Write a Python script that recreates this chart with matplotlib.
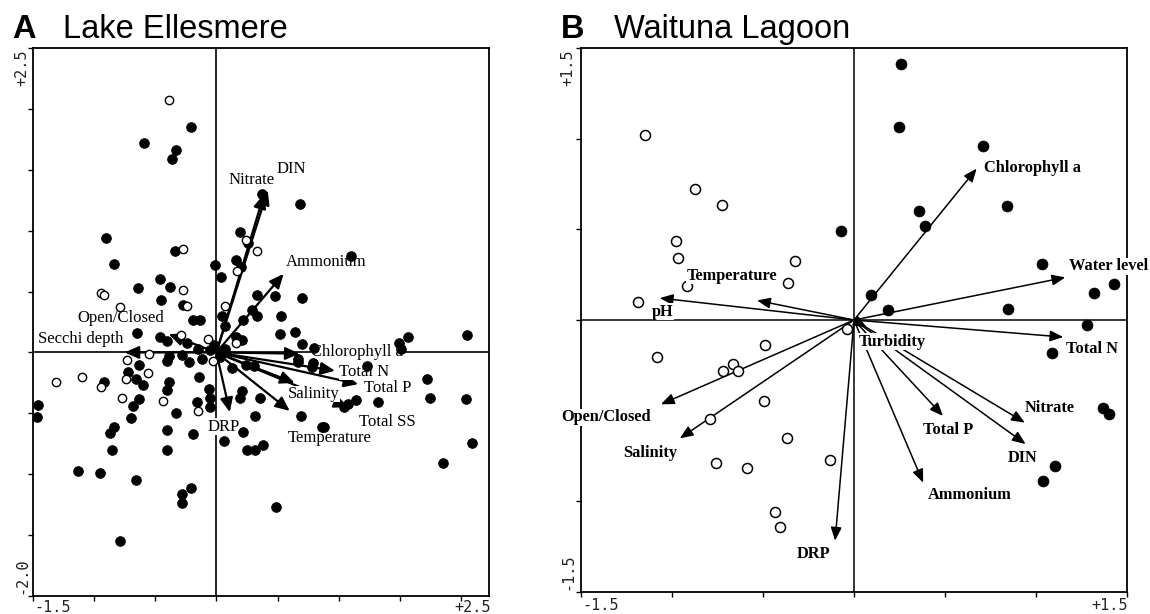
import matplotlib
matplotlib.use("Agg")
import matplotlib.pyplot as plt

# ---------------- Panel A : Lake Ellesmere ----------------
A_filled_x = [-0.21,-0.59,-0.33,-0.36,0.37,0.68,-0.90,0.19,0.26,-0.34,1.10,-0.84,-0.01,0.16,0.20,0.04,-0.46,-0.38,-0.64,-0.45,
              0.33,0.48,0.70,-0.27,0.29,0.05,0.22,0.33,-0.19,-0.13,0.53,0.07,-0.65,-0.46,-0.40,-0.24,-0.15,0.52,0.64,0.70,
              0.80,0.16,0.21,1.49,1.51,1.57,2.05,-0.63,-0.39,-0.40,-0.28,-0.22,-0.12,0.05,0.67,0.67,0.79,0.78,0.24,0.31,
              0.13,1.23,-0.92,-0.72,-0.66,-0.60,-0.39,-0.40,-0.14,-0.06,1.72,-1.46,-1.47,-0.63,-0.68,-0.16,-0.05,-0.05,-0.33,0.21,
              0.19,0.36,1.04,1.08,1.14,1.32,1.75,2.04,-0.70,0.32,0.69,-0.84,-0.87,-0.40,-0.40,-0.19,0.22,0.06,0.86,0.88,
              2.09,-0.85,0.25,0.32,0.38,1.85,-1.13,-0.95,-0.66,-0.28,-0.21,-0.28,0.49,-0.79,-0.05,0.03,0.07,-0.02]
A_filled_y = [1.85,1.72,1.66,1.59,1.30,1.22,0.94,0.99,0.90,0.83,0.79,0.73,0.72,0.76,0.70,0.62,0.60,0.54,0.53,0.43,
              0.47,0.46,0.45,0.39,0.35,0.30,0.27,0.30,0.27,0.27,0.30,0.22,0.16,0.13,0.09,0.08,0.03,0.15,0.17,0.07,
              0.04,0.13,0.10,0.08,0.03,0.13,0.14,-0.10,-0.03,-0.07,-0.02,-0.08,-0.05,0.00,-0.05,-0.08,-0.09,-0.12,-0.10,-0.11,
              -0.13,-0.11,-0.24,-0.16,-0.22,-0.27,-0.24,-0.31,-0.20,-0.30,-0.22,-0.43,-0.53,-0.38,-0.44,-0.41,-0.37,-0.45,-0.50,-0.32,
              -0.37,-0.37,-0.45,-0.42,-0.39,-0.41,-0.37,-0.38,-0.54,-0.52,-0.52,-0.61,-0.66,-0.64,-0.80,-0.67,-0.65,-0.73,-0.61,-0.61,
              -0.74,-0.80,-0.80,-0.80,-0.76,-0.91,-0.97,-0.99,-1.05,-1.16,-1.11,-1.24,-1.27,-1.55,0.02,-0.04,0.03,0.06]
A_open_x = [-0.39,0.24,0.33,-0.27,0.17,-0.27,-0.94,-0.92,-0.24,-0.79,0.07,-0.29,-0.07,0.16,-0.55,-0.73,-0.03,
            -1.31,-1.10,-0.94,-0.74,-0.56,-0.77,-0.44,-0.15]
A_open_y = [2.07,0.92,0.83,0.85,0.67,0.51,0.49,0.47,0.38,0.37,0.38,0.14,0.11,0.08,-0.01,-0.06,-0.07,
            -0.24,-0.20,-0.28,-0.22,-0.17,-0.37,-0.40,-0.48]

A_vars  = ["Nitrate", "DIN", "Ammonium", "Chlorophyll a", "Total N", "Total P",
           "Salinity", "Temperature", "Total SS", "DRP", "Secchi depth", "Open/Closed"]
A_vec_x = [0.39, 0.42, 0.55, 0.68, 0.97, 1.16, 0.64, 0.60, 1.08, 0.11, -0.75, -0.39]
A_vec_y = [1.30, 1.33, 0.645, -0.01, -0.15, -0.26, -0.25, -0.48, -0.45, -0.49, 0.00, 0.15]

# ---------------- Panel B : Waituna Lagoon ----------------
B_filled_x = [0.257,0.248,0.711,0.357,0.843,0.391,-0.070,1.035,1.430,1.320,0.096,0.189,0.845,
              1.280,1.088,1.370,1.400,1.104,1.037]
B_filled_y = [1.414,1.064,0.960,0.599,0.627,0.517,0.493,0.310,0.200,0.148,0.136,0.057,0.063,
              -0.030,-0.180,-0.487,-0.520,-0.803,-0.886]
B_open_x = [-1.150,-0.874,-0.728,-0.978,-0.965,-0.324,-0.363,-0.915,-1.185,
            -0.039,-0.489,-1.085,-0.665,-0.722,-0.639,-0.493,-0.789,-0.370,-0.130,-0.757,-0.589,-0.435,-0.404]
B_open_y = [1.018,0.722,0.632,0.438,0.342,0.324,0.204,0.188,0.101,
            -0.051,-0.140,-0.204,-0.243,-0.279,-0.279,-0.449,-0.548,-0.653,-0.772,-0.790,-0.818,-1.059,-1.140]

B_vars  = ["Chlorophyll a", "Water level", "Total N", "pH", "Temperature", "Turbidity",
           "Open/Closed", "Salinity", "DRP", "Ammonium", "Total P", "DIN", "Nitrate"]
B_vec_x = [0.674, 1.161, 1.150, -1.067, -0.533, 0.07, -1.061, -0.957, -0.104, 0.380, 0.489, 0.943, 0.939]
B_vec_y = [0.835, 0.235, -0.094, 0.121, 0.108, -0.04, -0.465, -0.653, -1.217, -0.897, -0.529, -0.684, -0.566]

# label placement (centres, data units)
A_label_pos = {"Nitrate": (0.29, 1.42), "DIN": (0.61, 1.51), "Ammonium": (0.90, 0.745),
               "Chlorophyll a": (1.15, 0.00), "Total N": (1.21, -0.16), "Total P": (1.40, -0.29),
               "Salinity": (0.80, -0.34), "Temperature": (0.93, -0.70), "Total SS": (1.40, -0.57),
               "DRP": (0.06, -0.61), "Secchi depth": (-1.11, 0.11), "Open/Closed": (-0.78, 0.28)}
B_label_pos = {"Chlorophyll a": (0.983, 0.84), "Water level": (1.398, 0.297), "Total N": (1.305, -0.16),
               "pH": (-1.05, 0.045), "Temperature": (-0.67, 0.243), "Turbidity": (0.21, -0.12),
               "Open/Closed": (-1.36, -0.537), "Salinity": (-1.12, -0.733), "DRP": (-0.22, -1.289),
               "Ammonium": (0.637, -0.965), "Total P": (0.515, -0.607), "DIN": (0.928, -0.763),
               "Nitrate": (1.078, -0.487)}

W, H = 1150, 614
fig = plt.figure(figsize=(W / 100, H / 100), dpi=100)
mono = "DejaVu Sans Mono"
serif = "Liberation Serif"


def px_axes(left, top, right, bottom):
    return fig.add_axes([left / W, 1 - bottom / H, (right - left) / W, (bottom - top) / H])


def style(ax, xlim, ylim):
    ax.set_xlim(*xlim)
    ax.set_ylim(*ylim)
    for s in ax.spines.values():
        s.set_linewidth(1.3)
    ax.tick_params(direction="out", length=3.5, width=1.0, labelbottom=False, labelleft=False,
                   top=False, right=False)


# ---- Panel A ----
axA = px_axes(33, 48, 489, 596)
style(axA, (-1.5, 2.23), (-2.0, 2.5))
axA.set_xticks([-1.5, -1.0, -0.5, 0, 0.5, 1.0, 1.5, 2.0])
axA.set_yticks([-2.0, -1.5, -1.0, -0.5, 0, 0.5, 1.0, 1.5, 2.0, 2.5])
axA.axhline(0, color="black", lw=1.2, zorder=1)
axA.axvline(0, color="black", lw=1.2, zorder=1)
for name, vx, vy in zip(A_vars, A_vec_x, A_vec_y):
    axA.annotate("", xy=(vx, vy), xytext=(0, 0),
                 arrowprops=dict(arrowstyle="-|>,head_length=0.85,head_width=0.38", color="black",
                                 lw=1.6, shrinkA=0, shrinkB=0, mutation_scale=10), zorder=2)
    lx, ly = A_label_pos[name]
    axA.text(lx, ly, name, ha="center", va="center", family=serif, fontsize=12, zorder=3,
             bbox=dict(facecolor="white", edgecolor="none", pad=0.3))
axA.scatter(A_filled_x, A_filled_y, s=50, c="black", edgecolors="black", linewidths=0.5, zorder=4)
axA.scatter(A_open_x, A_open_y, s=36, c="white", edgecolors="black", linewidths=1.0, zorder=5)

# ---- Panel B ----
axB = px_axes(581, 48, 1127, 592)
style(axB, (-1.5, 1.5), (-1.5, 1.5))
axB.set_xticks([-1.5, -1.0, -0.5, 0, 0.5, 1.0, 1.5])
axB.set_yticks([-1.5, -1.0, -0.5, 0, 0.5, 1.0, 1.5])
axB.axhline(0, color="black", lw=1.1, zorder=1)
axB.axvline(0, color="black", lw=1.1, zorder=1)
for name, vx, vy in zip(B_vars, B_vec_x, B_vec_y):
    axB.annotate("", xy=(vx, vy), xytext=(0, 0),
                 arrowprops=dict(arrowstyle="-|>,head_length=0.8,head_width=0.33", color="black",
                                 lw=1.1, shrinkA=0, shrinkB=0, mutation_scale=10), zorder=2)
axB.scatter(B_filled_x, B_filled_y, s=62, c="black", edgecolors="black", linewidths=0.5, zorder=4)
axB.scatter(B_open_x, B_open_y, s=52, c="white", edgecolors="black", linewidths=1.1, zorder=5)
for name in B_vars:
    lx, ly = B_label_pos[name]
    axB.text(lx, ly, name, ha="center", va="center", family=serif, fontweight="bold", fontsize=11.8,
             zorder=6, clip_on=False, bbox=dict(facecolor="white", edgecolor="none", pad=0.3))

# ---- axis end labels (monospace, CANOCO style) ----
def ftxt(x, y, s, **kw):
    fig.text(x / W, 1 - y / H, s, family=mono, fontsize=11, color="#222222", **kw)

ftxt(34, 600, "-1.5", ha="left", va="top")
ftxt(491, 600, "+2.5", ha="right", va="top")
ftxt(22, 50, "+2.5", rotation=90, ha="center", va="top")
ftxt(22, 594, "-2.0", rotation=90, ha="center", va="bottom")
ftxt(582, 598, "-1.5", ha="left", va="top")
ftxt(1128, 598, "+1.5", ha="right", va="top")
ftxt(568, 50, "+1.5", rotation=90, ha="center", va="top")
ftxt(568, 590, "-1.5", rotation=90, ha="center", va="bottom")

# ---- panel titles ----
fig.text(12 / W, 1 - 38 / H, "A", family="Liberation Sans", fontweight="bold", fontsize=23.5, va="baseline")
fig.text(63 / W, 1 - 38 / H, "Lake Ellesmere", family="Liberation Sans", fontsize=23.5, va="baseline")
fig.text(561 / W, 1 - 38 / H, "B", family="Liberation Sans", fontweight="bold", fontsize=23.5, va="baseline")
fig.text(614 / W, 1 - 38 / H, "Waituna Lagoon", family="Liberation Sans", fontsize=23.5, va="baseline")

fig.savefig("out.png", dpi=100, facecolor="white")
